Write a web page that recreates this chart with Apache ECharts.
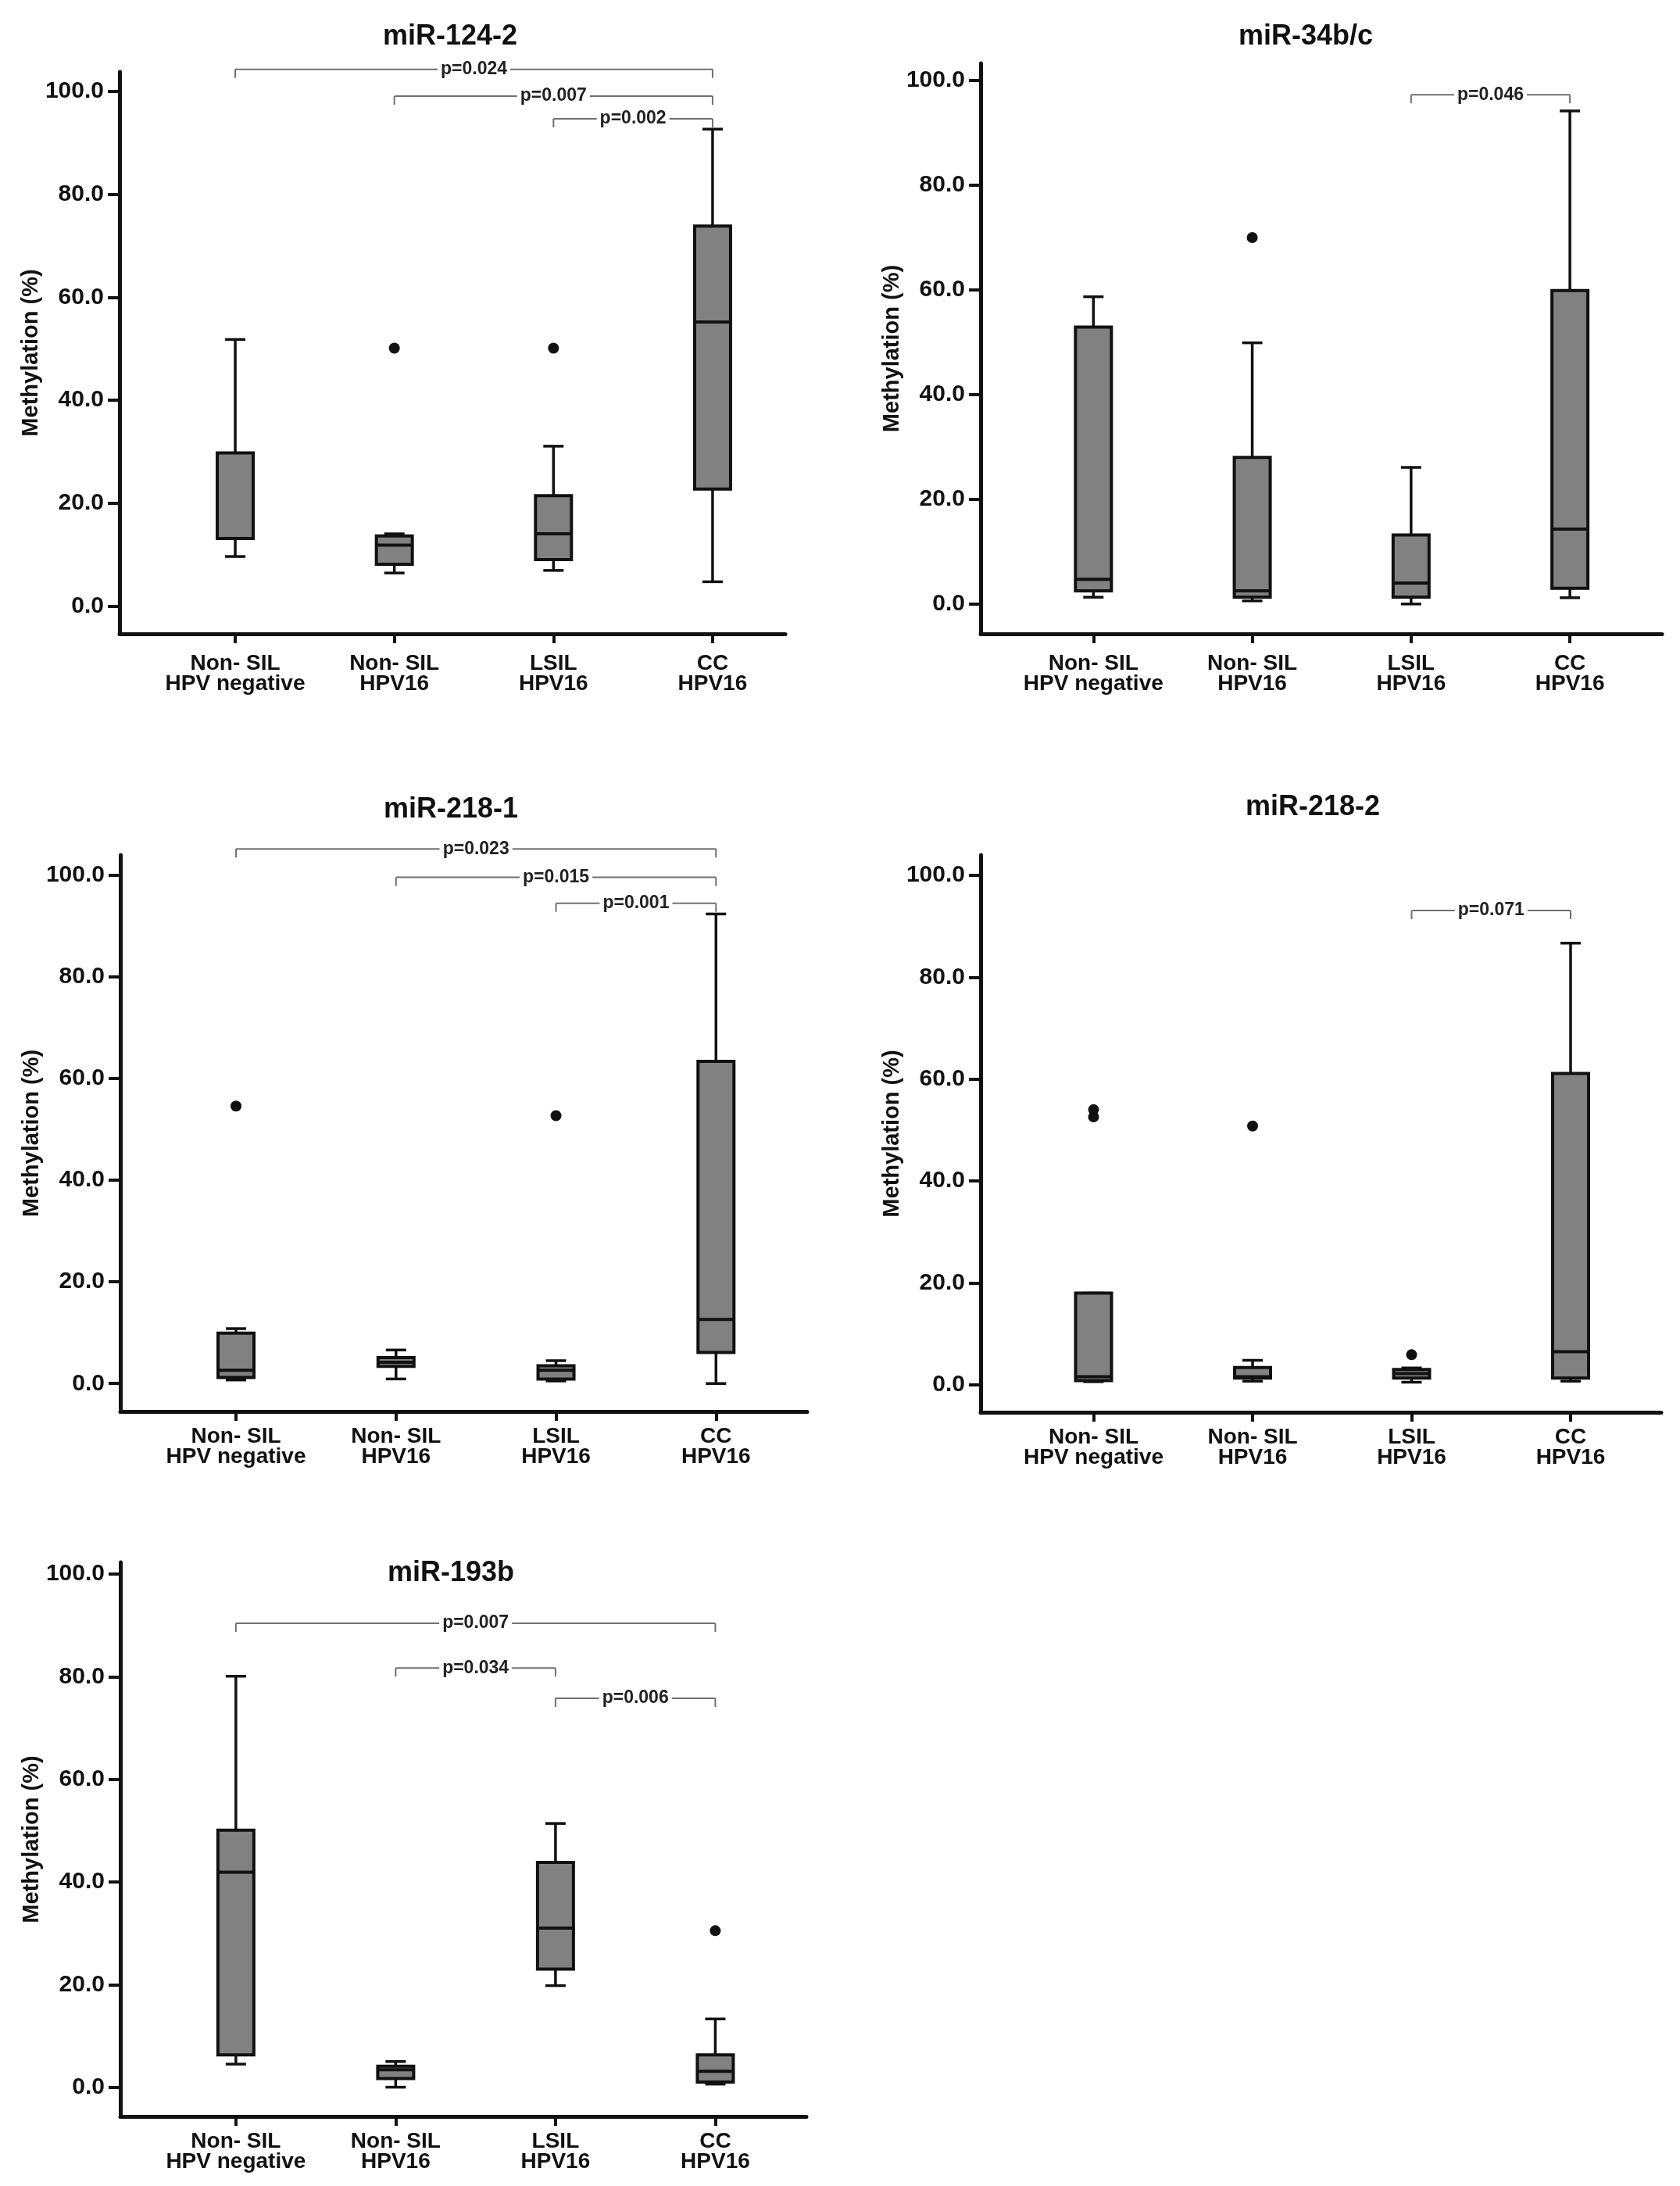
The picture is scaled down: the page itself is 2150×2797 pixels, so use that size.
<!DOCTYPE html>
<html>
<head>
<meta charset="utf-8">
<script src="https://cdn.jsdelivr.net/npm/echarts@6/dist/echarts.min.js"></script>
<style>
html,body{margin:0;padding:0;background:#fff;}
#chart{width:2150px;height:2797px;}
</style>
</head>
<body>
<div id="chart"></div>
<script>
// ---------------- DATA ----------------
const categories = ['Non- SIL\nHPV negative', 'Non- SIL\nHPV16', 'LSIL\nHPV16', 'CC\nHPV16'];
const categoryIndex = [1, 2, 3, 4];
const panelTitles = ['miR-124-2', 'miR-34b/c', 'miR-218-1', 'miR-218-2', 'miR-193b'];
const yTicks = [0, 20, 40, 60, 80, 100];
const yAxisName = 'Methylation (%)';

// box statistics per category: [lower whisker, Q1, median, Q3, upper whisker]
const mir1242Box = [[9.7, 13.2, 13.2, 29.8, 51.8], [6.5, 8.2, 11.9, 13.7, 14.1], [7.0, 9.1, 14.1, 21.5, 31.1], [4.8, 22.8, 55.2, 73.8, 92.6]];
const mir34Box = [[1.3, 2.5, 4.7, 52.9, 58.7], [0.6, 1.3, 2.5, 28.0, 49.9], [0.0, 1.3, 4.0, 13.2, 26.1], [1.2, 3.0, 14.3, 59.9, 94.2]];
const mir2181Box = [[0.7, 1.2, 2.6, 9.9, 10.8], [0.9, 3.4, 4.2, 5.1, 6.6], [0.5, 0.9, 2.6, 3.5, 4.5], [0.0, 6.1, 12.6, 63.4, 92.4]];
const mir2182Box = [[0.6, 0.8, 1.6, 18.0, 18.0], [0.7, 1.3, 1.6, 3.4, 4.8], [0.5, 1.3, 2.2, 3.0, 3.3], [0.7, 1.3, 6.5, 61.1, 86.7]];
const mir193bBox = [[4.5, 6.3, 41.9, 50.1, 80.1], [0.0, 1.7, 3.4, 4.1, 5.0], [19.8, 23.0, 31.0, 43.8, 51.4], [0.6, 1.0, 3.1, 6.3, 13.3]];

// outliers: [category index, value]
const mir1242Outliers = [[2, 50.1], [3, 50.1]];
const mir34Outliers = [[2, 70.0]];
const mir2181Outliers = [[1, 54.6], [3, 52.7]];
const mir2182Outliers = [[1, 54.0], [1, 52.6], [2, 50.8], [3, 5.9]];
const mir193bOutliers = [[4, 30.5]];

// significance brackets: [from category, to category, height, label]
const mir1242Brackets = [[1, 4, 104.2, 'p=0.024'], [2, 4, 99.0, 'p=0.007'], [3, 4, 94.6, 'p=0.002']];
const mir34Brackets = [[3, 4, 97.3, 'p=0.046']];
const mir2181Brackets = [[1, 4, 105.2, 'p=0.023'], [2, 4, 99.6, 'p=0.015'], [3, 4, 94.5, 'p=0.001']];
const mir2182Brackets = [[3, 4, 93.1, 'p=0.071']];
const mir193bBrackets = [[1, 4, 90.4, 'p=0.007'], [2, 3, 81.7, 'p=0.034'], [3, 4, 75.8, 'p=0.006']];

const boxSets = [mir1242Box, mir34Box, mir2181Box, mir2182Box, mir193bBox];
const outlierSets = [mir1242Outliers, mir34Outliers, mir2181Outliers, mir2182Outliers, mir193bOutliers];
const bracketSets = [mir1242Brackets, mir34Brackets, mir2181Brackets, mir2182Brackets, mir193bBrackets];

// ---------------- LAYOUT / STYLE ----------------
const FONT = '"Liberation Sans", Arial, sans-serif';
const INK = '#111';
const panels = [
  {grid: {left: 153, top: 92, width: 852, height: 719}, xMin: 0.273, xMax: 4.457, yMin: -5.3, yMax: 103.7, title: [571, 24], labelMargin: 25},
  {grid: {left: 1255, top: 81, width: 872, height: 730}, xMin: 0.29, xMax: 4.58, yMin: -5.7, yMax: 103.3, title: [1666, 24], labelMargin: 25},
  {grid: {left: 154, top: 1094, width: 879, height: 712}, xMin: 0.277, xMax: 4.57, yMin: -5.5, yMax: 104.0, title: [572, 1013], labelMargin: 19},
  {grid: {left: 1255, top: 1094, width: 871, height: 713}, xMin: 0.29, xMax: 4.57, yMin: -5.4, yMax: 104.0, title: [1675, 1010], labelMargin: 19},
  {grid: {left: 154, top: 1999, width: 878, height: 709}, xMin: 0.277, xMax: 4.57, yMin: -5.7, yMax: 102.3, title: [572, 1990], labelMargin: 19}
];

const chart = echarts.init(document.getElementById('chart'), null, {renderer: 'canvas'});

const grids = [], xAxes = [], yAxes = [], titles = [], series = [];

panels.forEach((p, i) => {
  grids.push(Object.assign({containLabel: false}, p.grid));
  titles.push({
    text: panelTitles[i], left: p.title[0], top: p.title[1], textAlign: 'center',
    textStyle: {fontFamily: FONT, fontSize: 36, fontWeight: 'bold', color: INK}
  });
  xAxes.push({
    type: 'value', gridIndex: i, min: p.xMin, max: p.xMax,
    splitLine: {show: false},
    axisLine: {onZero: false, lineStyle: {color: INK, width: 5}},
    axisTick: {customValues: categoryIndex, length: 12, lineStyle: {color: INK, width: 4}},
    axisLabel: {
      customValues: categoryIndex,
      formatter: v => categories[Math.round(v) - 1],
      fontFamily: FONT, fontSize: 28, fontWeight: 'bold', color: INK, lineHeight: 26, margin: p.labelMargin
    }
  });
  yAxes.push({
    type: 'value', gridIndex: i, min: p.yMin, max: p.yMax,
    splitLine: {show: false},
    axisLine: {onZero: false, lineStyle: {color: INK, width: 5}},
    axisTick: {customValues: yTicks, length: 15, lineStyle: {color: INK, width: 4}},
    axisLabel: {
      customValues: yTicks, formatter: v => v.toFixed(1),
      fontFamily: FONT, fontSize: 30, fontWeight: 'bold', color: INK, margin: 20
    },
    name: yAxisName, nameLocation: 'middle', nameGap: 98,
    nameTextStyle: {fontFamily: FONT, fontSize: 29, fontWeight: 'bold', color: INK}
  });

  // boxes
  series.push({
    type: 'custom', xAxisIndex: i, yAxisIndex: i,
    data: boxSets[i].map((b, k) => [categoryIndex[k]].concat(b)),
    encode: {x: 0, y: [1, 2, 3, 4, 5]},
    renderItem: function (params, api) {
      const x = api.value(0);
      const pLow = api.coord([x, api.value(1)]);
      const pQ1 = api.coord([x, api.value(2)]);
      const pMed = api.coord([x, api.value(3)]);
      const pQ3 = api.coord([x, api.value(4)]);
      const pHigh = api.coord([x, api.value(5)]);
      const cx = pQ1[0];
      const hw = 23, cap = 13;
      const lineStyle = {stroke: INK, lineWidth: 3.5};
      return {
        type: 'group',
        children: [
          {type: 'line', shape: {x1: cx, y1: pHigh[1], x2: cx, y2: pQ3[1]}, style: lineStyle},
          {type: 'line', shape: {x1: cx, y1: pQ1[1], x2: cx, y2: pLow[1]}, style: lineStyle},
          {type: 'line', shape: {x1: cx - cap, y1: pHigh[1], x2: cx + cap, y2: pHigh[1]}, style: lineStyle},
          {type: 'line', shape: {x1: cx - cap, y1: pLow[1], x2: cx + cap, y2: pLow[1]}, style: lineStyle},
          {type: 'rect', shape: {x: cx - hw, y: pQ3[1], width: hw * 2, height: pQ1[1] - pQ3[1]},
            style: {fill: '#818181', stroke: INK, lineWidth: 4}},
          {type: 'line', shape: {x1: cx - hw, y1: pMed[1], x2: cx + hw, y2: pMed[1]}, style: {stroke: INK, lineWidth: 4}}
        ]
      };
    }
  });

  // outliers
  series.push({
    type: 'scatter', xAxisIndex: i, yAxisIndex: i,
    data: outlierSets[i], symbol: 'circle', symbolSize: 14,
    itemStyle: {color: INK, opacity: 1}
  });

  // brackets
  series.push({
    type: 'custom', xAxisIndex: i, yAxisIndex: i,
    data: bracketSets[i],
    encode: {x: [0, 1], y: 2},
    z: 5,
    renderItem: function (params, api) {
      const b = bracketSets[i][params.dataIndex];
      const p1 = api.coord([api.value(0), api.value(2)]);
      const p2 = api.coord([api.value(1), api.value(2)]);
      const tick = 11;
      const st = {stroke: '#707070', lineWidth: 2};
      return {
        type: 'group',
        children: [
          {type: 'line', shape: {x1: p1[0], y1: p1[1], x2: p2[0], y2: p2[1]}, style: st},
          {type: 'line', shape: {x1: p1[0], y1: p1[1], x2: p1[0], y2: p1[1] + tick}, style: st},
          {type: 'line', shape: {x1: p2[0], y1: p2[1], x2: p2[0], y2: p2[1] + tick}, style: st},
          {type: 'text', z2: 10, style: {
            text: b[3], x: (p1[0] + p2[0]) / 2, y: p1[1],
            align: 'center', verticalAlign: 'middle',
            font: 'bold 23px ' + FONT, fill: '#222',
            backgroundColor: '#fff', padding: [0, 4]
          }}
        ]
      };
    }
  });
});

chart.setOption({
  animation: false,
  backgroundColor: '#fff',
  title: titles,
  grid: grids,
  xAxis: xAxes,
  yAxis: yAxes,
  series: series
});
</script>
</body>
</html>
